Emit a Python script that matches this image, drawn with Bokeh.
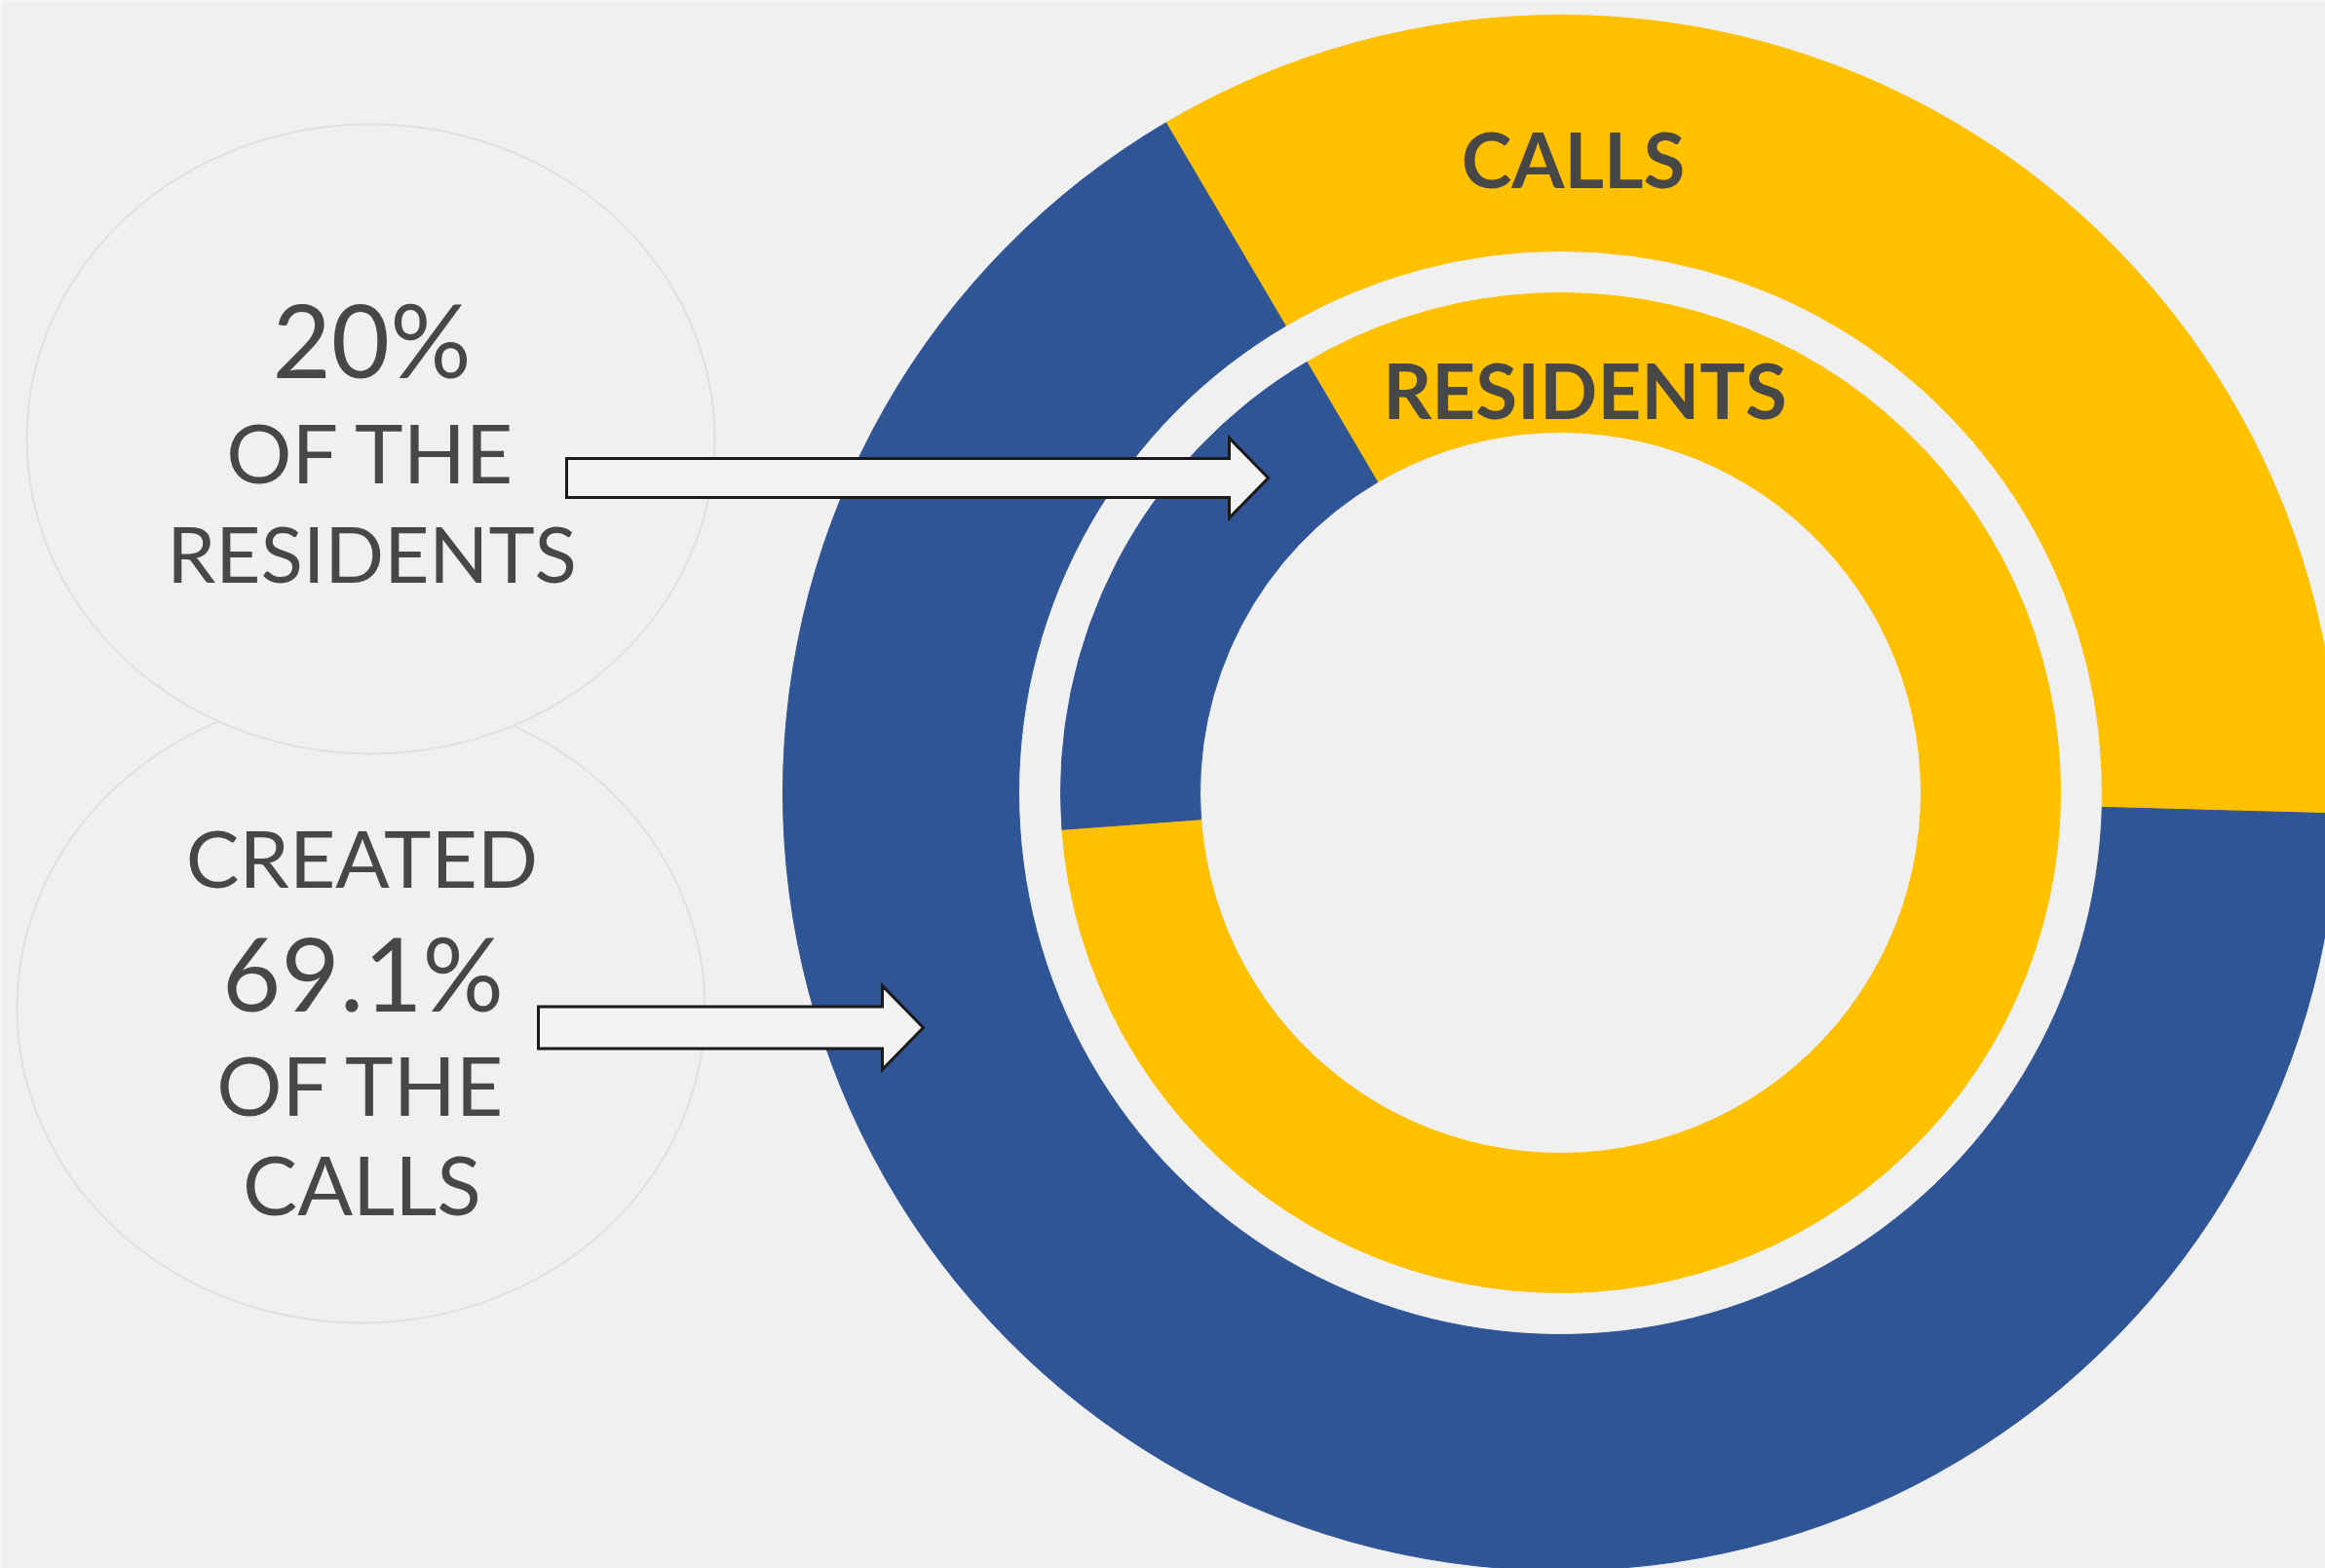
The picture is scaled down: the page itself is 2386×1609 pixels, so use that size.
import math
from bokeh.plotting import figure
from bokeh.models import ColumnDataSource, Range1d
from bokeh.core.properties import value
from bokeh.embed import file_html
from bokeh.resources import INLINE

# ---------------- data (as drawn) ----------------
segment_names = ["Yellow", "Blue"]
segment_colors = ["#FFC000", "#2F5597"]
calls_share = [33.9, 66.1]        # outer ring
residents_share = [82.3, 17.7]    # inner ring
ring_labels = ["CALLS", "RESIDENTS"]
residents_text = ["20%", "OF THE", "RESIDENTS"]
calls_text = ["CREATED", "69.1%", "OF THE", "CALLS"]

# ---------------- layout ----------------
W, H = 2386, 1609
BG = "#F0F0F0"
TXT = "#474747"
FONT = "Lato"
SHIFT = 0.39  # baseline compensation (fraction of font size)


def Y(py):
    return H - py


def TY(py, size):
    return H - (py - SHIFT * size)


p = figure(width=W, height=H, output_backend="svg", toolbar_location=None,
           x_range=Range1d(0, W), y_range=Range1d(0, H), min_border=0)
p.background_fill_color = BG
p.border_fill_color = BG
p.outline_line_color = None
p.axis.visible = False
p.grid.visible = False

# ---------------- ellipses ----------------
p.ellipse(x=[370], y=[Y(1034)], width=[706], height=[646],
          fill_color=BG, line_color="#E0E0E0", line_width=2)
p.ellipse(x=[380], y=[Y(450)], width=[706], height=[646],
          fill_color=BG, line_color="#E0E0E0", line_width=2)

# ---------------- donut rings ----------------
cx, cy = 1601, Y(813)
start_deg = 120.5


def ring(shares, r_in, r_out):
    starts, ends = [], []
    a = math.radians(start_deg)
    for s in shares:
        b = a - s / 100.0 * 2 * math.pi
        starts.append(b)
        ends.append(a)
        a = b
    src = ColumnDataSource(dict(x=[cx] * len(shares), y=[cy] * len(shares),
                                start=starts, end=ends, color=segment_colors,
                                name=segment_names, share=shares))
    p.annular_wedge(x="x", y="y", inner_radius=r_in, outer_radius=r_out,
                    start_angle="start", end_angle="end", direction="anticlock",
                    fill_color="color", line_color="color", line_width=1,
                    source=src)


ring(calls_share, 556, 798)
ring(residents_share, 370, 513)

# ---------------- ring labels ----------------
p.text(x=[1614, 1626], y=[TY(193, 78), TY(430, 78)], text=ring_labels,
       text_font=value(FONT), text_font_style="bold", text_font_size="78px",
       text_color=TXT, text_align="center", text_baseline="alphabetic")

# ---------------- arrows ----------------
def arrow(x0, yc, x_head, x_tip, shaft_half, head_half):
    xs = [x0, x_head, x_head, x_tip, x_head, x_head, x0]
    ys = [yc + shaft_half, yc + shaft_half, yc + head_half, yc,
          yc - head_half, yc - shaft_half, yc - shaft_half]
    p.patch(xs, [Y(v) for v in ys], fill_color="#F2F2F2",
            line_color="#1A1A1A", line_width=3, line_join="miter")


arrow(581, 490, 1261, 1301, 20, 41)
arrow(552, 1054, 905, 947, 21.5, 43)

# ---------------- left texts ----------------
r_sizes = [104, 84, 80]
p.text(x=[381, 381, 381],
       y=[TY(388, r_sizes[0]), TY(496, r_sizes[1]), TY(598, r_sizes[2])],
       text=residents_text, text_font=value(FONT),
       text_font_size=[f"{s}px" for s in r_sizes],
       text_color=TXT, text_align="center", text_baseline="alphabetic")
c_sizes = [82, 104, 84, 84]
p.text(x=[371, 372, 371, 371],
       y=[TY(910, c_sizes[0]), TY(1038, c_sizes[1]), TY(1145, c_sizes[2]),
          TY(1247, c_sizes[3])],
       text=calls_text, text_font=value(FONT),
       text_font_size=[f"{s}px" for s in c_sizes],
       text_color=TXT, text_align="center", text_baseline="alphabetic")

open("out.html", "w").write(file_html(p, INLINE))
